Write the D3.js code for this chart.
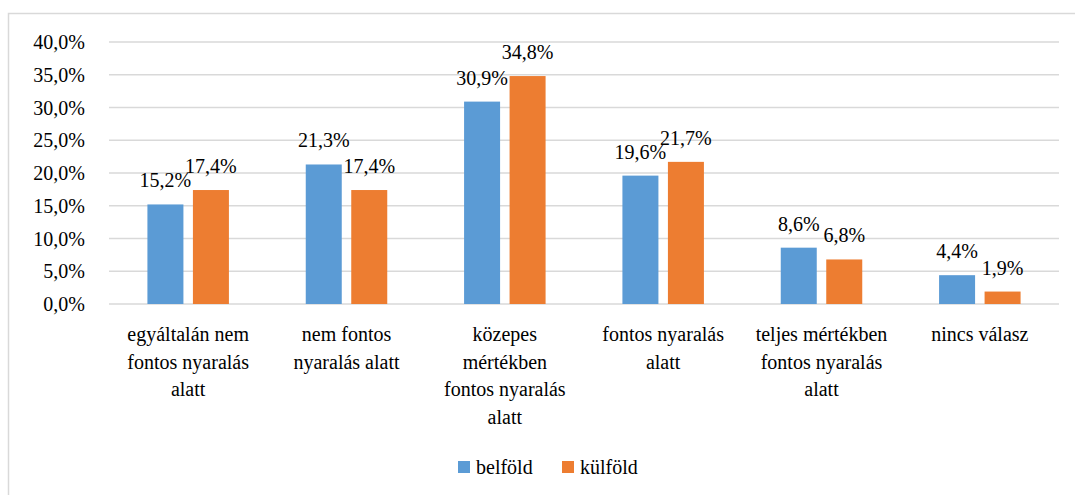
<!DOCTYPE html>
<html>
<head>
<meta charset="utf-8">
<script src="https://cdn.jsdelivr.net/npm/d3@7"></script>
<style>
  html, body { margin: 0; padding: 0; background: #fff; font-family: "Liberation Serif", "Times New Roman", serif; }
  svg { display: block; }
</style>
</head>
<body>
<svg id="chart" width="1075" height="495"></svg>
<script>
const categories = [
  "egyáltalán nem\nfontos nyaralás\nalatt",
  "nem fontos\nnyaralás alatt",
  "közepes\nmértékben\nfontos nyaralás\nalatt",
  "fontos nyaralás\nalatt",
  "teljes mértékben\nfontos nyaralás\nalatt",
  "nincs válasz"
];
const seriesNames = ["belföld", "külföld"];
const belfold = [15.2, 21.3, 30.9, 19.6, 8.6, 4.4];
const kulfold = [17.4, 17.4, 34.8, 21.7, 6.8, 1.9];
const yTicks = [0, 5, 10, 15, 20, 25, 30, 35, 40];
const colors = ["#5B9BD5", "#ED7D31"];

const FONT = '"Liberation Serif", "Times New Roman", serif';
const svg = d3.select("#chart");
const fmt = v => v.toFixed(1).replace(".", ",") + "%";
const setFont = sel => sel.attr("font-family", FONT).style("font-family", FONT);

// chart border
svg.append("rect")
  .attr("x", 8.5).attr("y", 13.5)
  .attr("width", 1080).attr("height", 500)
  .attr("fill", "none").attr("stroke", "#d9d9d9").attr("stroke-width", 1.5);

const plotL = 109, plotR = 1059, plotT = 42, plotB = 304;

const x0 = d3.scaleBand().domain(categories).range([plotL, plotR]).paddingInner(0).paddingOuter(0);
const y = d3.scaleLinear().domain([0, 40]).range([plotB, plotT]);

const barW = 36, gap = 9.5;

// gridlines
svg.append("g").selectAll("line").data(yTicks).join("line")
  .attr("x1", plotL).attr("x2", plotR)
  .attr("y1", d => y(d)).attr("y2", d => y(d))
  .attr("stroke", "#d9d9d9").attr("stroke-width", 1.5);

// y axis labels
const yAxis = d3.axisLeft(y).tickValues(yTicks).tickFormat(fmt).tickSize(0).tickPadding(0);
const gy = svg.append("g").attr("transform", `translate(85,0)`).call(yAxis);
setFont(gy);
gy.select(".domain").remove();
setFont(gy.selectAll("text")).attr("font-size", 20).attr("fill", "#000").attr("dy", "0.33em");

const series = [belfold, kulfold];
const g = svg.append("g");
series.forEach((vals, si) => {
  const xOff = si === 0 ? -(gap / 2 + barW) : gap / 2;
  g.selectAll(".bar" + si).data(categories).join("rect")
    .attr("class", "bar" + si)
    .attr("x", (c) => x0(c) + x0.bandwidth() / 2 + xOff)
    .attr("y", (c, i) => y(vals[i]))
    .attr("width", barW)
    .attr("height", (c, i) => y(0) - y(vals[i]))
    .attr("fill", colors[si]);
  setFont(g.selectAll(".lab" + si).data(categories).join("text"))
    .attr("class", "lab" + si)
    .attr("x", (c) => x0(c) + x0.bandwidth() / 2 + xOff + barW / 2)
    .attr("y", (c, i) => y(vals[i]) - 17)
    .attr("text-anchor", "middle")
    .attr("font-size", 20)
    .text((c, i) => fmt(vals[i]));
});

// x axis labels (line breaks as in the original)
const xl = svg.append("g");
categories.forEach(c => {
  const cx = x0(c) + x0.bandwidth() / 2;
  const t = setFont(xl.append("text"))
    .attr("x", cx)
    .attr("y", 341)
    .attr("text-anchor", "middle")
    .attr("font-size", 20);
  c.split("\n").forEach((ln, i) => {
    t.append("tspan").attr("x", cx).attr("dy", i === 0 ? 0 : 27.5).text(ln);
  });
});

// legend
const legend = svg.append("g");
const legX = [458, 562];
seriesNames.forEach((n, i) => {
  legend.append("rect").attr("x", legX[i]).attr("y", 461).attr("width", 12).attr("height", 12).attr("fill", colors[i]);
  setFont(legend.append("text")).attr("x", legX[i] + 18).attr("y", 474).attr("font-size", 20).text(n);
});
</script>
</body>
</html>
